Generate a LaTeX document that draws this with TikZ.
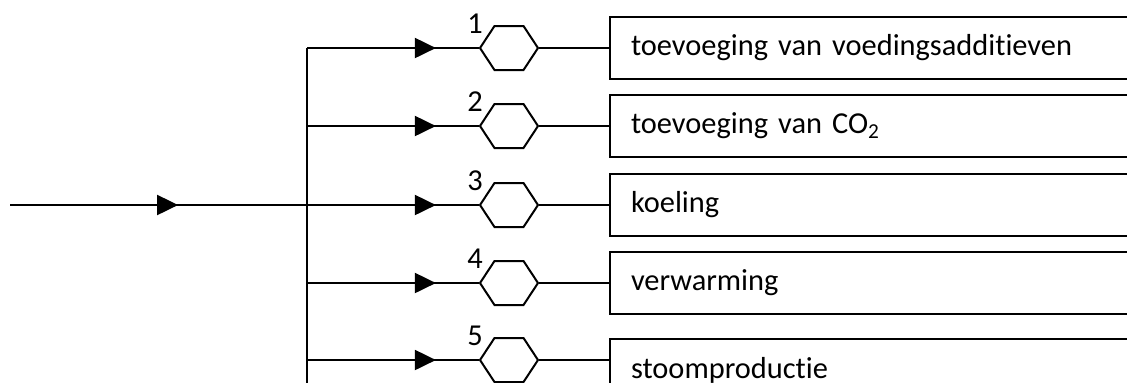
\documentclass[tikz,border=0pt]{standalone}
\usepackage{fontspec}
\setmainfont{Carlito}[Ligatures={NoCommon,NoContextual},Contextuals=NoAlternate]
\usetikzlibrary{shapes.geometric,arrows.meta,decorations.markings}

\begin{document}
\begin{tikzpicture}[x=0.5pt,y=-0.5pt,line width=1pt,
    every node/.style={font=\fontsize{15.2}{18}\selectfont},
    hexa/.style={draw,regular polygon,regular polygon sides=6,minimum size=29pt,inner sep=0pt,yscale=0.876,transform shape},
    tbox/.style={draw,anchor=west,minimum width=271pt,minimum height=31pt,text width=250pt,inner xsep=10.5pt,align=left},
    num/.style={inner sep=0pt},
    feed/.style={postaction={decorate},decoration={markings,mark=at position #1 with {\arrow{Triangle[length=10.5pt,width=10pt]}}}},
    feed/.default=0.75]
    \useasboundingbox (0,0) rectangle (1127,382);
    % feed line and distribution bar
    \coordinate (in) at (10,205);
    \coordinate (s1) at (307,48);
    \coordinate (s2) at (307,126);
    \coordinate (s3) at (307,205);
    \coordinate (s4) at (307,283);
    \coordinate (s5) at (307,360);
    \coordinate (end) at (307,384);
    % valves
    \node[hexa] (h1) at (509,48) {};
    \node[hexa] (h2) at (509,126) {};
    \node[hexa] (h3) at (509,205) {};
    \node[hexa] (h4) at (509,283) {};
    \node[hexa] (h5) at (509,360) {};
    \node[num] (n1) at (475,24) {1};
    \node[num] (n2) at (475,102) {2};
    \node[num] (n3) at (475,181) {3};
    \node[num] (n4) at (475,259) {4};
    \node[num] (n5) at (475,336) {5};
    % destinations
    \node[tbox] (b1) at (609,48) {toevoeging van voedingsadditieven};
    \node[tbox] (b2) at (609,126) {toevoeging van CO\textsubscript{2}};
    \node[tbox] (b3) at (609,205) {koeling};
    \node[tbox] (b4) at (609,283) {verwarming};
    \node[tbox] (b5) at (609,370) {stoomproductie};
    \draw[feed=0.566] (in) -- (s3);
    \draw (s1) -- (end);
    \draw[feed] (s1) -- (h1);
    \draw[feed] (s2) -- (h2);
    \draw[feed] (s3) -- (h3);
    \draw[feed] (s4) -- (h4);
    \draw[feed] (s5) -- (h5);
    \draw (h1) -- (b1);
    \draw (h2) -- (b2);
    \draw (h3) -- (b3);
    \draw (h4) -- (b4);
    \draw (h5) -- (h5 -| b5.west);
\end{tikzpicture}
\end{document}
